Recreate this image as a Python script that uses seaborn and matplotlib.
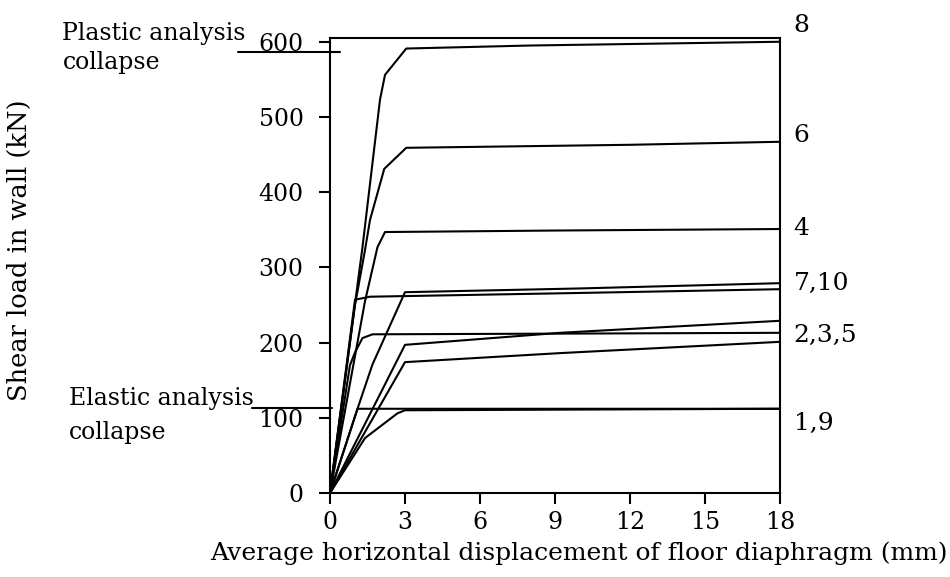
import matplotlib
matplotlib.use("Agg")
import matplotlib.pyplot as plt
import seaborn as sns
import pandas as pd

# ---- data ----
x_c8 = [0, 1.3, 2.0, 2.2, 3.05, 8, 18]
y_c8 = [0, 327, 523, 556, 591, 595, 600]
x_c6 = [0, 1.0, 1.4, 1.6, 2.17, 3.05, 12, 18]
y_c6 = [0, 250, 323, 363, 431, 459, 463, 467]
x_c4 = [0, 1.4, 1.9, 2.2, 9, 18]
y_c4 = [0, 255, 327, 347, 349, 351]
x_c7 = [0, 1.1, 1.7, 3.0, 10, 18]
y_c7 = [0, 112, 171, 267, 272, 279]
x_c10 = [0, 1.0, 1.6, 10, 18]
y_c10 = [0, 257, 261, 266, 271]
x_c2 = [0, 3.0, 9.2, 18]
y_c2 = [0, 197, 213, 229]
x_c3 = [0, 0.8, 1.0, 1.3, 1.7, 18]
y_c3 = [0, 170, 187, 206, 211, 213]
x_c5 = [0, 3.0, 9.2, 18]
y_c5 = [0, 174, 186, 201]
x_c1 = [0, 1.1, 18]
y_c1 = [0, 112, 112]
x_c9 = [0, 1.4, 2.7, 3.0, 18]
y_c9 = [0, 73, 106, 110, 112]

curve_names = ["8", "6", "4", "7", "10", "2", "3", "5", "1", "9"]
curve_x = [x_c8, x_c6, x_c4, x_c7, x_c10, x_c2, x_c3, x_c5, x_c1, x_c9]
curve_y = [y_c8, y_c6, y_c4, y_c7, y_c10, y_c2, y_c3, y_c5, y_c1, y_c9]

end_labels = ["8", "6", "4", "7,10", "2,3,5", "1,9"]
end_label_y = [622, 476, 352, 279, 210, 92]

x_ticks = [0, 3, 6, 9, 12, 15, 18]
y_ticks = [0, 100, 200, 300, 400, 500, 600]

plastic_collapse = 586
elastic_collapse = 113

x_label = "Average horizontal displacement of floor diaphragm (mm)"
y_label = "Shear load in wall (kN)"

# ---- build long table ----
rows = []
for name, xs, ys in zip(curve_names, curve_x, curve_y):
    for xv, yv in zip(xs, ys):
        rows.append({"test": name, "disp": xv, "load": yv})
df = pd.DataFrame(rows)

sns.set_style("white")
plt.rcParams["font.family"] = ["DejaVu Serif"]
plt.rcParams["text.color"] = "black"
plt.rcParams["axes.labelcolor"] = "black"
plt.rcParams["xtick.color"] = "black"
plt.rcParams["ytick.color"] = "black"
FS = 18
TFS = 17
AFS = 17

fig = plt.figure(figsize=(9.5, 5.77), dpi=100)
ax = fig.add_axes([330 / 950, 1 - 493 / 577, 450 / 950, 455 / 577])

sns.lineplot(data=df, x="disp", y="load", units="test", estimator=None,
             color="black", linewidth=1.5, sort=False, ax=ax, legend=False)

ax.set_xlim(0, 18)
ax.set_ylim(0, 605)
ax.set_xticks(x_ticks)
ax.set_yticks(y_ticks)
ax.tick_params(axis="both", labelsize=TFS, colors="black", width=1.5,
               length=8, direction="out", left=True, bottom=True)
ax.tick_params(axis="y", pad=11)
ax.tick_params(axis="x", pad=5)
for s in ax.spines.values():
    s.set_visible(True)
    s.set_color("black")
    s.set_linewidth(1.5)

ax.set_xlabel(x_label, fontsize=FS)
ax.xaxis.set_label_coords(0.552, -0.132)
ax.xaxis.label.set_va("center")
ax.set_ylabel(y_label, fontsize=FS + 0.5)
ax.yaxis.set_label_coords(-0.69, 0.534)
ax.yaxis.label.set_va("center")

# collapse lines outside the axes
ax.plot([-3.69, 0.4], [plastic_collapse, plastic_collapse], color="black",
        linewidth=1.5, clip_on=False)
ax.plot([-3.13, 0.08], [elastic_collapse, elastic_collapse], color="black",
        linewidth=1.5, clip_on=False)

ax.text(-10.7, 611, "Plastic analysis", fontsize=AFS, va="center", ha="left", clip_on=False)
ax.text(-10.7, 572, "collapse", fontsize=AFS, va="center", ha="left", clip_on=False)
ax.text(-10.45, 126, "Elastic analysis", fontsize=AFS, va="center", ha="left", clip_on=False)
ax.text(-10.45, 81, "collapse", fontsize=AFS, va="center", ha="left", clip_on=False)

for lab, yv in zip(end_labels, end_label_y):
    ax.text(18.55, yv, lab, fontsize=FS, va="center", ha="left", clip_on=False)

fig.savefig("out.png", dpi=100, facecolor="white")
